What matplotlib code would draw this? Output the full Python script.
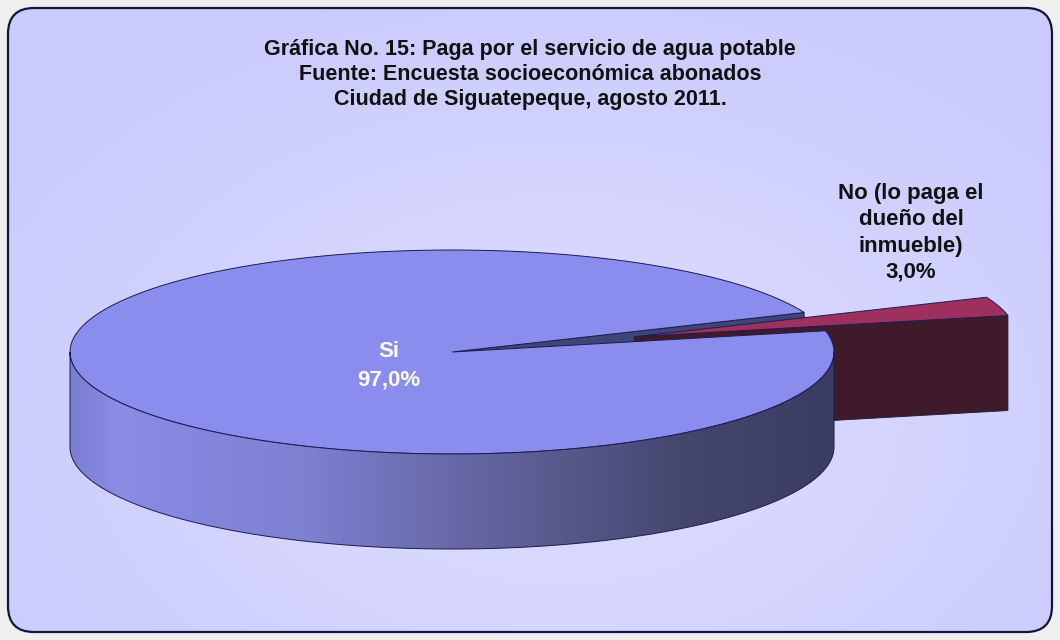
import numpy as np
import matplotlib.pyplot as plt
from matplotlib.patches import Polygon, FancyBboxPatch
from matplotlib.colors import LinearSegmentedColormap

plt.rcParams['font.family'] = ['Liberation Sans', 'DejaVu Sans']

# datos
labels = ['Si', 'No (lo paga el\ndueño del\ninmueble)']
values = np.array([97.0, 3.0])
pct_text = ['97,0%', '3,0%']
title = ('Gráfica No. 15: Paga por el servicio de agua potable\n'
         'Fuente: Encuesta socioeconómica abonados\n'
         'Ciudad de Siguatepeque, agosto 2011.')

top_colors = ['#8a8cee', '#9e305f']
face_colors = ['#3e4676', '#3f1a2b']
label_colors = ['white', '#111111']

# geometria del pastel 3D (en pixeles)
W, H = 1060, 640
cx, cy = 452, 352
a, b = 382, 102
depth = 95
start = 12.0
explode = [0.0, 0.5]

fig = plt.figure(figsize=(W / 100, H / 100), dpi=100)
fig.patch.set_facecolor('#efefef')
ax = fig.add_axes([0, 0, 1, 1])
ax.set_xlim(0, W)
ax.set_ylim(H, 0)
ax.axis('off')

# fondo redondeado con degradado
frame = FancyBboxPatch((8, 8), W - 16, H - 16,
                       boxstyle='round,pad=0,rounding_size=26',
                       facecolor='none', edgecolor='none', zorder=0)
ax.add_patch(frame)
yy, xx = np.mgrid[0:H:4, 0:W:4]
d = np.sqrt(((xx - 560) / 620.0) ** 2 + ((yy - 420) / 420.0) ** 2)
bg_cmap = LinearSegmentedColormap.from_list('bg', ['#dedeff', '#d4d4ff', '#cacafd'])
bg = ax.imshow(d, cmap=bg_cmap, extent=(0, W, H, 0), vmin=0, vmax=1.1,
               interpolation='bilinear', zorder=0)
bg.set_clip_path(frame)
ax.add_patch(FancyBboxPatch((8, 8), W - 16, H - 16,
                            boxstyle='round,pad=0,rounding_size=26',
                            facecolor='none', edgecolor='#14143c',
                            linewidth=1.6, zorder=10))

# angulos de cada porcion (Si empieza donde termina No)
frac = values / values.sum()
spans = [(start + 360 * frac[1], start + 360), (start, start + 360 * frac[1])]


def offset(i):
    mid = np.radians(np.mean(spans[i]))
    return (explode[i] * a * np.cos(mid), -explode[i] * b * np.sin(mid))


def pt(i, th, r=1.0, dz=0.0):
    ox, oy = offset(i)
    t = np.radians(th)
    return (cx + ox + r * a * np.cos(t), cy + oy - r * b * np.sin(t) + dz)


def arc(i, t0, t1, dz=0.0, n=200):
    return [pt(i, t, 1.0, dz) for t in np.linspace(t0, t1, n)]


def cut_face(i, th, color, z):
    poly = [pt(i, th, 0), pt(i, th), pt(i, th, 1, depth), pt(i, th, 0, depth)]
    ax.add_patch(Polygon(poly, closed=True, facecolor=color,
                         edgecolor='#1c1c40', linewidth=0.6, zorder=z))


def top(i, z):
    t0, t1 = spans[i]
    poly = [pt(i, t0, 0)] + arc(i, t0, t1)
    ax.add_patch(Polygon(poly, closed=True, facecolor=top_colors[i],
                         edgecolor='#1c1c50', linewidth=0.7, zorder=z))


# caras de corte visibles
for i in [0, 1]:
    t0, t1 = spans[i]
    if np.cos(np.radians(t0)) > 0:
        cut_face(i, t0, face_colors[i], 2 + 2 * i)
    if np.cos(np.radians(t1)) < 0:
        cut_face(i, t1, face_colors[i], 2 + 2 * i)

top(1, 5)
top(0, 6)

# pared frontal de Si con degradado
wall = arc(0, 180, 360) + arc(0, 360, 180, depth)
wall_patch = Polygon(wall, closed=True, facecolor='none',
                     edgecolor='#1c1c50', linewidth=0.7, zorder=8)
ax.add_patch(wall_patch)
wall_cmap = LinearSegmentedColormap.from_list(
    'wall', [(0.0, '#7c7ed2'), (0.06, '#8a8ce6'), (0.3, '#7e80d2'),
             (0.55, '#62649e'), (0.8, '#45476f'), (1.0, '#3a3c62')])
grad = np.linspace(0, 1, 400).reshape(1, -1)
wimg = ax.imshow(grad, cmap=wall_cmap, aspect='auto',
                 extent=(cx - a, cx + a, cy + b + depth + 2, cy - 2),
                 interpolation='bilinear', zorder=7)
wimg.set_clip_path(wall_patch)

# etiquetas
ax.text(389, 366, labels[0] + '\n' + pct_text[0], color=label_colors[0],
        fontsize=16, fontweight='bold', ha='center', va='center',
        linespacing=1.45, zorder=12)
ax.text(911, 233, labels[1] + '\n' + pct_text[1], color=label_colors[1],
        fontsize=16, fontweight='bold', ha='center', va='center',
        linespacing=1.33, zorder=12)

ax.text(530, 74, title, color='#111111', fontsize=15.5, fontweight='bold',
        ha='center', va='center', linespacing=1.25, zorder=12)

fig.savefig('out.png', dpi=100, facecolor=fig.get_facecolor())
